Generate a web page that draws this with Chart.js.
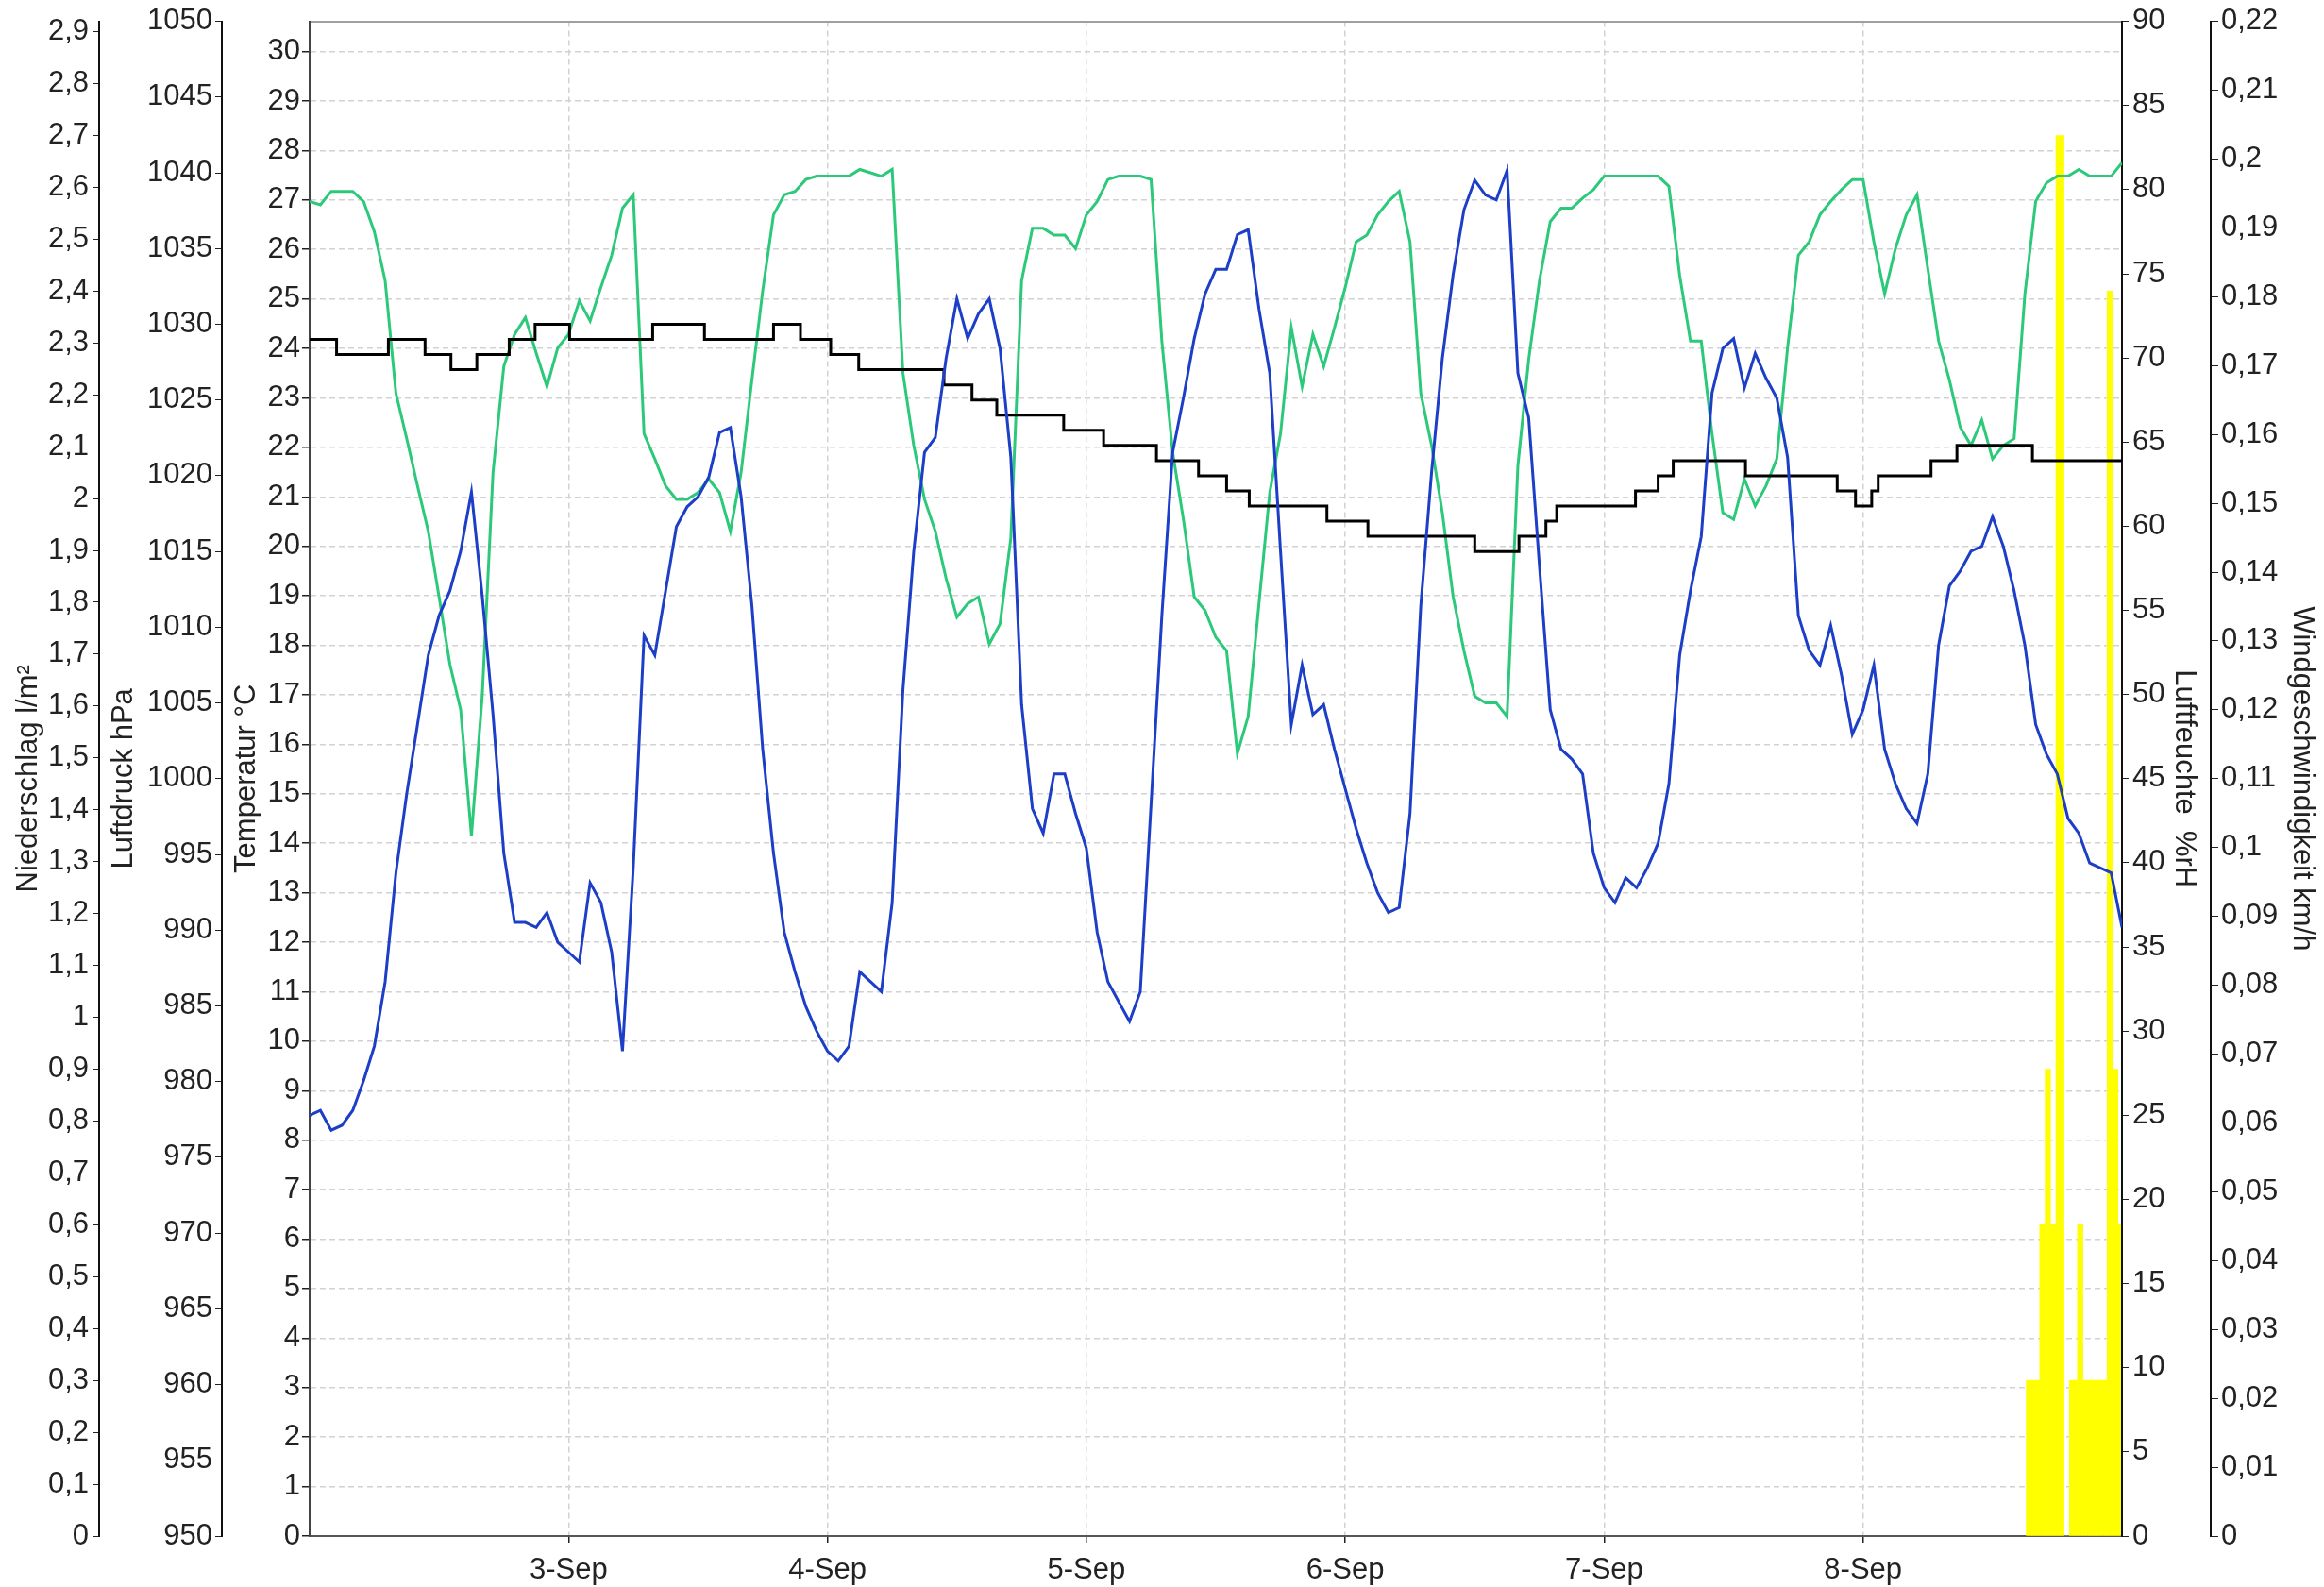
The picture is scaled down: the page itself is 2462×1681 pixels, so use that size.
<!DOCTYPE html>
<html>
<head>
<meta charset="utf-8">
<title>Wetterdaten 2.-9. September</title>
<script src="https://cdn.jsdelivr.net/npm/chart.js@4/dist/chart.umd.min.js"></script>
<style>
  html, body { margin: 0; padding: 0; background: #fff; }
  #wrap { width: 2462px; height: 1681px; }
</style>
</head>
<body>
<div id="wrap"><canvas id="chart"></canvas></div>
<script>
/* Wetterstation — Wochenverlauf */

// ── Data ──────────────────────────────────────────────────────────────────────
const dayLabels = ["3-Sep", "4-Sep", "5-Sep", "6-Sep", "7-Sep", "8-Sep"];

// hourly readings, starting 2-Sep 00:00 (one row per day)
const temperature = [
  8.5, 8.6, 8.2, 8.3, 8.6, 9.2, 9.9, 11.2, 13.4, 15.0, 16.4, 17.8, 18.6, 19.1, 19.9, 21.1, 19.0, 16.6, 13.8, 12.4, 12.4, 12.3, 12.6, 12.0,
  11.8, 11.6, 13.2, 12.8, 11.8, 9.8, 13.5, 18.2, 17.8, 19.1, 20.4, 20.8, 21.0, 21.4, 22.3, 22.4, 21.0, 18.8, 15.9, 13.8, 12.2, 11.4, 10.7, 10.2,
  9.8, 9.6, 9.9, 11.4, 11.2, 11.0, 12.8, 17.1, 19.9, 21.9, 22.2, 23.8, 25.0, 24.2, 24.7, 25.0, 24.0, 21.8, 16.8, 14.7, 14.2, 15.4, 15.4, 14.6,
  13.9, 12.2, 11.2, 10.8, 10.4, 11.0, 14.8, 18.6, 21.9, 23.0, 24.2, 25.1, 25.6, 25.6, 26.3, 26.4, 24.8, 23.5, 19.9, 16.4, 17.6, 16.6, 16.8, 15.9,
  15.1, 14.3, 13.6, 13.0, 12.6, 12.7, 14.6, 18.8, 21.5, 23.8, 25.5, 26.8, 27.4, 27.1, 27.0, 27.6, 23.5, 22.6, 19.6, 16.7, 15.9, 15.7, 15.4, 13.8,
  13.1, 12.8, 13.3, 13.1, 13.5, 14.0, 15.2, 17.8, 19.1, 20.2, 23.1, 24.0, 24.2, 23.2, 23.9, 23.4, 23.0, 21.8, 18.6, 17.9, 17.6, 18.4, 17.4, 16.2,
  16.7, 17.6, 15.9, 15.2, 14.7, 14.4, 15.4, 18.0, 19.2, 19.5, 19.9, 20.0, 20.6, 20.0, 19.1, 18.0, 16.4, 15.8, 15.4, 14.5, 14.2, 13.6, 13.5, 13.4,
  12.3,
];

const humidity = [
  79.3, 79.1, 79.9, 79.9, 79.9, 79.3, 77.5, 74.6, 67.9, 65.2, 62.4, 59.7, 55.8, 51.8, 49.1, 41.6, 49.9, 63.2, 69.5, 71.4, 72.4, 70.3, 68.3, 70.6,
  71.4, 73.4, 72.2, 74.2, 76.1, 78.9, 79.7, 65.5, 64.0, 62.4, 61.6, 61.6, 62.0, 62.8, 62.0, 59.7, 63.2, 68.7, 74.0, 78.5, 79.7, 79.9, 80.6, 80.8,
  80.8, 80.8, 80.8, 81.2, 81.0, 80.8, 81.2, 69.1, 64.8, 61.6, 59.7, 56.9, 54.6, 55.4, 55.8, 53.0, 54.2, 59.3, 74.6, 77.7, 77.7, 77.3, 77.3, 76.5,
  78.5, 79.3, 80.6, 80.8, 80.8, 80.8, 80.6, 71.0, 64.4, 60.4, 55.8, 55.0, 53.4, 52.6, 46.5, 48.7, 55.4, 62.0, 65.5, 71.8, 68.3, 71.4, 69.5, 71.8,
  74.2, 76.9, 77.3, 78.5, 79.3, 79.9, 76.9, 67.9, 64.8, 60.8, 55.8, 52.6, 49.9, 49.5, 49.5, 48.7, 63.6, 69.9, 74.6, 78.1, 78.9, 78.9, 79.5, 80.0,
  80.8, 80.8, 80.8, 80.8, 80.8, 80.8, 80.2, 74.9, 71.0, 71.0, 65.5, 60.8, 60.4, 62.8, 61.2, 62.4, 64.0, 70.6, 76.1, 76.9, 78.5, 79.3, 80.0, 80.6,
  80.6, 76.9, 73.8, 76.5, 78.5, 79.7, 75.3, 71.0, 68.7, 65.9, 64.8, 66.3, 64.0, 64.8, 65.2, 73.8, 79.3, 80.4, 80.8, 80.8, 81.2, 80.8, 80.8, 80.8,
  81.6,
];

// air pressure: hour at which each new reading starts
const pressureHours = [0, 2.5, 7.3, 10.7, 13.1, 15.5, 18.5, 20.9, 24.1, 31.8, 36.6, 43.0, 45.5, 48.3, 50.9, 58.8, 61.4, 63.7, 69.9, 73.6, 78.5,
  82.4, 85.0, 87.1, 94.3, 98.1, 108.0, 112.1, 114.6, 115.6, 122.9, 125.0, 126.4, 133.1, 141.6, 143.3, 144.8, 145.4, 150.3, 152.7, 159.7, 168];
const pressureValues = [1029, 1028, 1029, 1028, 1027, 1028, 1029, 1030, 1029, 1030, 1029, 1030, 1029, 1028, 1027, 1026, 1025, 1024, 1023, 1022, 1021,
  1020, 1019, 1018, 1017, 1016, 1015, 1016, 1017, 1018, 1019, 1020, 1021, 1020, 1019, 1018, 1019, 1020, 1021, 1022, 1021, 1021];

// rain, quarter-hour sums on the last day
const rainHours = [159.25, 159.5, 159.75, 160.0, 160.25, 160.5, 160.75, 161.0, 161.25, 161.5, 161.75, 162.0, 162.25, 162.5, 162.75, 163.0,
  163.25, 163.5, 163.75, 164.0, 164.25, 164.5, 164.75, 165.0, 165.25, 165.5, 165.75, 166.0, 166.25, 166.5, 166.75, 167.0, 167.25, 167.5, 167.75];
const rainValues = [0.3, 0.3, 0.3, 0.3, 0.3, 0.6, 0.6, 0.9, 0.9, 0.6, 0.6, 2.7, 2.7, 2.7, 0, 0,
  0.3, 0.3, 0.3, 0.6, 0.6, 0.3, 0.3, 0.3, 0.3, 0.3, 0.3, 0.3, 0.3, 0.3, 2.4, 2.4, 0.9, 0.9, 0.6];

// ── Helpers ───────────────────────────────────────────────────────────────────
const hours = temperature.map((_, i) => i);
const pts = (xs, ys) => xs.map((x, i) => ({ x, y: ys[i] }));
const de = v => String(+Number(v).toFixed(2)).replace(".", ",");

// tick marks at every step between lo and hi (the top of an axis may fall between steps)
const stepTicks = (lo, hi, step) => s => {
  const n = Math.floor((hi - lo) / step + 1e-6);
  s.ticks = Array.from({ length: n + 1 }, (_, i) => ({ value: +(lo + i * step).toFixed(4) }));
};

Chart.defaults.font.family = "'Liberation Sans', Arial, sans-serif";
Chart.defaults.font.size = 31;
Chart.defaults.color = "#222";

const TICK = "#222";
const GRID = "#d2d2d2";
const DASH = [6, 4];

function title(text, pad) {
  return { display: true, text, color: "#222", padding: { top: pad, bottom: 0 } };
}

// ── Chart ─────────────────────────────────────────────────────────────────────
new Chart(document.getElementById("chart"), {
  type: "line",
  data: {
    datasets: [
      {
        label: "Temperatur", data: pts(hours, temperature), yAxisID: "yTemp",
        borderColor: "#1d3ec6", borderWidth: 3, pointRadius: 0, tension: 0, order: 0,
      },
      {
        label: "Luftdruck", data: pts(pressureHours, pressureValues), yAxisID: "yPress",
        borderColor: "#000", borderWidth: 3, pointRadius: 0, stepped: "before", order: 1,
      },
      {
        label: "Luftfeuchte", data: pts(hours, humidity), yAxisID: "yHum",
        borderColor: "#2cc97a", borderWidth: 3, pointRadius: 0, tension: 0, order: 2,
      },
      {
        type: "bar", label: "Niederschlag", data: pts(rainHours, rainValues), yAxisID: "yRain",
        backgroundColor: "#ffff00", borderWidth: 0, barPercentage: 1, categoryPercentage: 1, order: 3,
      },
    ],
  },
  options: {
    responsive: true,
    maintainAspectRatio: false,
    devicePixelRatio: 1,
    animation: false,
    layout: { padding: { top: 21, left: 0, right: 0, bottom: 0 } },
    plugins: { legend: { display: false }, tooltip: { enabled: false } },
    scales: {
      x: {
        type: "linear", min: 0, max: 168, offset: false,
        afterBuildTicks: s => { s.ticks = dayLabels.map((_, i) => ({ value: (i + 1) * 24 })); },
        ticks: { callback: v => dayLabels[v / 24 - 1], autoSkip: false, maxRotation: 0, padding: 11, color: TICK },
        grid: { color: GRID, lineWidth: 1.5, tickColor: TICK, tickLength: 7, offset: false },
        border: { color: "#555", width: 2, dash: DASH },
        afterFit: s => { s.height = 54; },
      },
      xTop: {
        type: "linear", position: "top", min: 0, max: 168, display: true,
        ticks: { display: false },
        grid: { drawOnChartArea: false, drawTicks: false },
        border: { color: "#a0a0a0", width: 2 },
        afterFit: s => { s.height = 0; },
      },
      yTemp: {
        position: "left", weight: 0, min: 0, max: 30.61, bounds: "data",
        ticks: { autoSkip: false, padding: 2, color: TICK, callback: de },
        afterBuildTicks: stepTicks(0, 30.61, 1),
        grid: { color: GRID, lineWidth: 1.5, tickColor: TICK, tickLength: 8 },
        border: { color: "#444", width: 2, dash: DASH },
        title: title("Temperatur °C", 8),
        afterFit: s => { s.width = 93; },
      },
      yPress: {
        position: "left", weight: 1, min: 950, max: 1050, bounds: "data",
        ticks: { autoSkip: false, padding: 3, color: TICK, callback: de },
        afterBuildTicks: stepTicks(950, 1050, 5),
        grid: { drawOnChartArea: false, tickColor: TICK, tickLength: 7 },
        border: { color: "#111", width: 2 },
        title: title("Luftdruck hPa", 8),
        afterFit: s => { s.width = 130; },
      },
      yRain: {
        position: "left", weight: 2, min: 0, max: 2.92, bounds: "data",
        ticks: { autoSkip: false, padding: 4, color: TICK, callback: de },
        afterBuildTicks: stepTicks(0, 2.92, 0.1),
        grid: { drawOnChartArea: false, tickColor: TICK, tickLength: 7 },
        border: { color: "#111", width: 2 },
        title: title("Niederschlag l/m²", 12),
        afterFit: s => { s.width = 105; },
      },
      yHum: {
        position: "right", weight: 0, min: 0, max: 90, bounds: "data",
        ticks: { autoSkip: false, padding: 4, color: TICK, callback: de },
        afterBuildTicks: stepTicks(0, 90, 5),
        grid: { drawOnChartArea: false, tickColor: TICK, tickLength: 7 },
        border: { color: "#111", width: 2 },
        title: title("Luftfeuchte  %rH", 10),
        afterFit: s => { s.width = 94; },
      },
      yWind: {
        position: "right", weight: 1, min: 0, max: 0.22, bounds: "data", display: true,
        ticks: { autoSkip: false, padding: 3, color: TICK, callback: de },
        afterBuildTicks: stepTicks(0, 0.22, 0.01),
        grid: { drawOnChartArea: false, tickColor: TICK, tickLength: 8 },
        border: { color: "#111", width: 2 },
        title: title("Windgeschwindigkeit km/h", 5),
        afterFit: s => { s.width = 120; },
      },
    },
  },
});
</script>
</body>
</html>
